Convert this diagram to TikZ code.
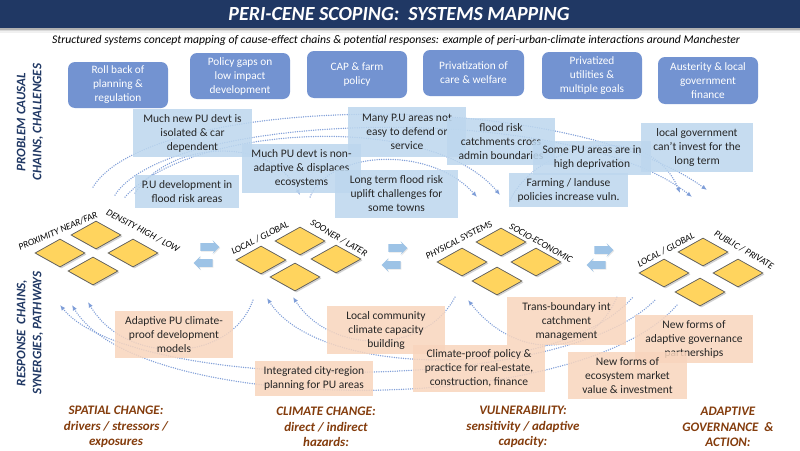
\documentclass[tikz,border=0pt]{standalone}
\usepackage{fontspec}
\setmainfont{Carlito}
\usetikzlibrary{shapes.geometric,shapes.arrows,shadows,arrows.meta}

\definecolor{navy}{HTML}{203864}
\definecolor{topfill}{HTML}{7393D1}
\definecolor{probfill}{HTML}{BDD7EE}
\definecolor{respfill}{HTML}{F8D5BD}
\definecolor{diamfill}{HTML}{FFD45E}
\definecolor{diamline}{HTML}{5A5A5A}
\definecolor{brownlbl}{HTML}{843C0C}
\definecolor{arrblue}{HTML}{9DC3E6}
\definecolor{dotblue}{HTML}{7F9ED8}
\definecolor{boxtext}{HTML}{262626}

\tikzset{
  topbox/.style={rounded corners=7pt, fill=topfill, text=white, align=center, inner sep=1pt,
    font=\fontsize{11.3}{14}\selectfont},
  probbox/.style={fill=probfill, fill opacity=0.85, text opacity=1, text=boxtext, align=center, inner sep=1pt,
    font=\fontsize{11.5}{14}\selectfont},
  respbox/.style={fill=respfill, fill opacity=0.85, text opacity=1, text=boxtext, align=center, inner sep=1pt,
    font=\fontsize{11.5}{14}\selectfont},
  diam/.style={diamond, draw=diamline, line width=0.7pt, fill=diamfill, minimum width=50pt,
    minimum height=28pt, aspect=1.8, inner sep=0pt,
    drop shadow={shadow xshift=1.5pt, shadow yshift=-1.5pt, opacity=0.35}},
  dlabel/.style={font=\fontsize{9.5}{11}\itshape, inner sep=0pt},
  dotcurve/.style={dotblue, line width=1.5pt, dash pattern=on 0pt off 2.3pt, line cap=round},
  tip/.style={-{Latex[length=5.5pt,width=4.5pt]}},
  rtip/.style={{Latex[length=5.5pt,width=4.5pt]}-},
  dblarrow/.style={single arrow, fill=arrblue, minimum height=19pt, inner sep=3.6pt,
    single arrow head extend=3pt, single arrow head indent=1.5pt,
    drop shadow={shadow xshift=0.8pt, shadow yshift=-0.8pt, opacity=0.2}},
  sidelbl/.style={rotate=90, align=center, text=navy, font=\fontsize{13}{16}\bfseries\itshape},
  botlbl/.style={align=center, text=brownlbl, font=\fontsize{13}{15.5}\bfseries\itshape}
}

\begin{document}
\begin{tikzpicture}[x=1pt,y=-1pt]
\useasboundingbox (0,0) rectangle (800,450);
\fill[white] (0,0) rectangle (800,450);

% banner
\fill[black!30] (0,28) rectangle (800,29.5);
\fill[black!15] (0,29.5) rectangle (800,31);
\fill[black!6] (0,31) rectangle (800,32.5);
\fill[navy] (0,0) rectangle (800,28);
\node[text=white, font=\fontsize{20}{23}\bfseries\itshape] (title) at (399,14) {PERI-CENE SCOPING:\ \ SYSTEMS MAPPING};
\node[font=\fontsize{11.7}{14}\itshape] (sub) at (396,40) {Structured systems concept mapping of cause-effect chains \& potential responses: example of peri-urban-climate interactions around Manchester};

% side labels
\node[sidelbl] (lblprob) at (30,122) {PROBLEM CAUSAL\\CHAINS, CHALLENGES};
\node[sidelbl] (lblresp) at (30,333) {RESPONSE\ \ CHAINS,\\SYNERGIES, PATHWAYS};

% curve end points
\coordinate (t1s) at (93,187);  \coordinate (t1e) at (707,190);
\coordinate (t2s) at (115,195); \coordinate (t2e) at (692,197);
\coordinate (t3s) at (125,197); \coordinate (t3e) at (500,195);
\coordinate (t4s) at (135,193); \coordinate (t4e) at (300,195);
\coordinate (t5s) at (310,197); \coordinate (t5e) at (477,197);
\coordinate (t6s) at (510,200); \coordinate (t6e) at (680,193);

\coordinate (b1s) at (60,305);  \coordinate (b1e) at (655,300);
\coordinate (b2s) at (72,305);  \coordinate (b2e) at (677,305);
\coordinate (b3s) at (88,302);  \coordinate (b3e) at (253,300);
\coordinate (b4s) at (267,298); \coordinate (b4e) at (633,297);
\coordinate (b5s) at (293,297); \coordinate (b5e) at (455,297);
\coordinate (b6s) at (468,300); \coordinate (b6e) at (617,297);

% problem curves
\draw[dotcurve,tip] (t1s) .. controls (150,95) and (560,85) .. (t1e);
\draw[dotcurve,tip] (t2s) .. controls (170,110) and (570,100) .. (t2e);
\draw[dotcurve,tip] (t3s) .. controls (190,125) and (430,110) .. (t3e);
\draw[dotcurve,tip] (t4s) .. controls (170,140) and (270,135) .. (t4e);
\draw[dotcurve,tip] (t5s) .. controls (330,150) and (430,145) .. (t5e);
\draw[dotcurve,tip] (t6s) .. controls (540,140) and (650,120) .. (t6e);

% response curves
\draw[dotcurve,rtip] (b1s) .. controls (130,392) and (560,398) .. (b1e);
\draw[dotcurve,rtip] (b2s) .. controls (140,418) and (580,418) .. (b2e);
\draw[dotcurve,rtip] (b3s) .. controls (125,365) and (230,365) .. (b3e);
\draw[dotcurve,rtip] (b4s) .. controls (320,380) and (560,380) .. (b4e);
\draw[dotcurve,rtip] (b5s) .. controls (330,355) and (425,355) .. (b5e);
\draw[dotcurve,rtip] (b6s) .. controls (515,360) and (590,360) .. (b6e);

% top boxes
\node[topbox, minimum width=100pt, minimum height=46pt] (k1) at (118,85) {Roll back of\\planning \&\\regulation};
\node[topbox, minimum width=100pt, minimum height=46pt] (k2) at (240,76) {Policy gaps on\\low impact\\development};
\node[topbox, minimum width=100pt, minimum height=47pt] (k3) at (357,74.5) {CAP \& farm\\policy};
\node[topbox, minimum width=101pt, minimum height=46pt] (k4) at (473.5,73) {Privatization of\\care \& welfare};
\node[topbox, minimum width=100pt, minimum height=47pt] (k5) at (592,75.5) {Privatized\\utilities \&\\multiple goals};
\node[topbox, minimum width=100pt, minimum height=47pt] (k6) at (708,80.5) {Austerity \& local\\government\\finance};

% problem boxes
\node[probbox, minimum width=119pt, minimum height=48pt] (pa) at (192.5,133) {Much new PU devt is\\isolated \& car\\dependent};
\node[probbox, minimum width=118pt, minimum height=50pt] (pd) at (407,132) {Many P.U areas not\\easy to defend or\\service};
\node[probbox, minimum width=119pt, minimum height=49pt] (pb) at (301.5,168.5) {Much PU devt is non-\\adaptive \& displaces\\ecosystems};
\node[probbox, minimum width=104pt, minimum height=33pt] (pc) at (187,191.5) {P.U development in\\flood risk areas};
\node[probbox, minimum width=123pt, minimum height=48pt] (pe) at (396.5,194) {Long term flood risk\\uplift challenges for\\some towns};
\node[probbox, minimum width=108pt, minimum height=47pt] (pf) at (501,141.5) {flood risk\\catchments cross\\admin boundaries};
\node[probbox, minimum width=118pt, minimum height=34pt] (pg) at (592,158) {Some PU areas are in\\high deprivation};
\node[probbox, minimum width=112pt, minimum height=49pt] (ph) at (697,147.5) {local government\\can’t invest for the\\long term};
\node[probbox, minimum width=119pt, minimum height=34pt] (pi) at (568.5,190) {Farming / landuse\\policies increase vuln.};

% response boxes
\node[respbox, minimum width=118pt, minimum height=47pt] (ra) at (174,334.5) {Adaptive PU climate-\\proof development\\models};
\node[respbox, minimum width=118pt, minimum height=48pt] (rb) at (386,330) {Local community\\climate capacity\\building};
\node[respbox, minimum width=118pt, minimum height=35pt] (rc) at (314,378.5) {Integrated city-region\\planning for PU areas};
\node[respbox, minimum width=119pt, minimum height=48pt] (rd) at (566.5,321) {Trans-boundary int\\catchment\\management};
\node[respbox, minimum width=132pt, minimum height=47pt] (re) at (479,368.5) {Climate-proof policy \&\\practice for real-estate,\\construction, finance};
\node[respbox, minimum width=118pt, minimum height=48pt] (rf) at (694,339) {New forms of\\adaptive governance\\partnerships};
\node[respbox, minimum width=119pt, minimum height=47pt] (rg) at (627.5,375.5) {New forms of\\ecosystem market\\value \& investment};

% diamond groups
\node[diam] (g1t) at (96,235) {};
\node[diam] (g1l) at (60,253) {};
\node[diam] (g1r) at (133,253) {};
\node[diam] (g1b) at (93,271) {};
\node[diam] (g2t) at (300,241) {};
\node[diam] (g2l) at (261,260) {};
\node[diam] (g2r) at (336,259) {};
\node[diam] (g2b) at (295,277) {};
\node[diam] (g3t) at (501,242) {};
\node[diam] (g3l) at (462,262) {};
\node[diam] (g3r) at (536,262) {};
\node[diam] (g3b) at (497,281) {};
\node[diam] (g4t) at (703,252) {};
\node[diam] (g4l) at (664,273) {};
\node[diam] (g4r) at (738,273) {};
\node[diam] (g4b) at (700,292) {};

% diamond labels
\node[dlabel, rotate=23] (l1a) at (58,231) {PROXIMITY NEAR/FAR};
\node[dlabel, rotate=-28] (l1b) at (143,231) {DENSITY HIGH / LOW};
\node[dlabel, rotate=27] (l2a) at (260,238) {LOCAL / GLOBAL};
\node[dlabel, rotate=-30] (l2b) at (339,238) {SOONER / LATER};
\node[dlabel, rotate=27] (l3a) at (459,240) {PHYSICAL SYSTEMS};
\node[dlabel, rotate=-29] (l3b) at (541,243) {SOCIO-ECONOMIC};
\node[dlabel, rotate=28] (l4a) at (666,250) {LOCAL / GLOBAL};
\node[dlabel, rotate=-30] (l4b) at (744,250) {PUBLIC / PRIVATE};

% double arrows
\node[dblarrow] (a1r) at (208,247) {};
\node[dblarrow, shape border rotate=180] (a1l) at (205,263) {};
\node[dblarrow] (a2r) at (396,248) {};
\node[dblarrow, shape border rotate=180] (a2l) at (393,265) {};
\node[dblarrow] (a3r) at (602,250) {};
\node[dblarrow, shape border rotate=180] (a3l) at (598,265) {};

% bottom labels
\node[botlbl] (c1) at (116,427) {SPATIAL CHANGE:\\drivers / stressors /\\exposures};
\node[botlbl] (c2) at (326,427) {CLIMATE CHANGE:\\direct / indirect\\hazards:};
\node[botlbl] (c3) at (523,427) {VULNERABILITY:\\sensitivity / adaptive\\capacity:};
\node[botlbl] (c4) at (728,427) {ADAPTIVE\\GOVERNANCE\ \ \&\\ACTION:};
\end{tikzpicture}
\end{document}
